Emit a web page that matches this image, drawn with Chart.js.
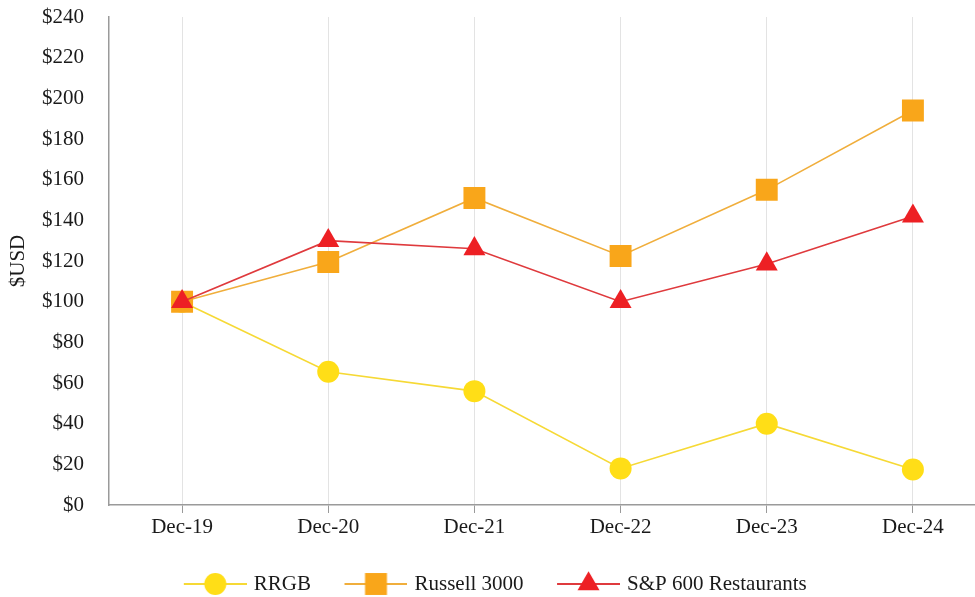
<!DOCTYPE html>
<html lang="en">
<head>
    <meta charset="UTF-8">
    <title>Total return</title>
    <script src="https://cdn.jsdelivr.net/npm/chart.js"></script>
    <style>
        html, body {
            margin: 0;
            padding: 0;
            background: #ffffff;
            overflow: hidden;
        }

        /* the plot runs slightly past the right edge, as in the source */
        #returnChart {
            display: block;
            width: 990px;
            height: 597px;
        }
    </style>
</head>
<body>

<canvas id="returnChart" width="990" height="597"></canvas>

<script>
    // Data
    const categories = ['Dec-19', 'Dec-20', 'Dec-21', 'Dec-22', 'Dec-23', 'Dec-24'];
    const rrgb = [100, 65.5, 56, 18, 40, 17.5];
    const russell3000 = [100, 119.5, 151, 122.5, 155, 194];
    const sp600Restaurants = [100, 130, 126, 100, 118.5, 142];
    const yTicks = [0, 20, 40, 60, 80, 100, 120, 140, 160, 180, 200, 220, 240];

    const serif = '"Liberation Serif", "Times New Roman", serif';
    const textColor = '#1a1a1a';
    const fontSize = 21;

    const styles = [
        { marker: 'circle', fill: '#ffde17', line: '#f6d935', radius: 11 },
        { marker: 'rect', fill: '#f9a61a', line: '#f0ae3c', radius: 15.5 },
        { marker: 'triangle', fill: '#ed2024', line: '#df3a3d', radius: 12.7 }
    ];

    // legend icon: line with the marker in the middle, blank on the left
    const ICON_W = 80, LINE_W = 63;
    function legendIcon(s) {
        const c = document.createElement('canvas');
        c.width = ICON_W;
        c.height = 26;
        const ctx = c.getContext('2d');
        const x0 = ICON_W - LINE_W;
        const cx = x0 + LINE_W / 2, cy = 13;
        ctx.strokeStyle = s.line;
        ctx.lineWidth = 2;
        ctx.beginPath();
        ctx.moveTo(x0, cy);
        ctx.lineTo(ICON_W, cy);
        ctx.stroke();
        ctx.fillStyle = s.fill;
        ctx.beginPath();
        if (s.marker === 'circle') {
            ctx.arc(cx, cy, s.radius, 0, Math.PI * 2);
        } else if (s.marker === 'rect') {
            const h = s.radius * Math.SQRT1_2;
            ctx.rect(cx - h, cy - h, 2 * h, 2 * h);
        } else {
            const r = s.radius;
            ctx.moveTo(cx, cy - r);
            ctx.lineTo(cx + r * 0.866, cy + r * 0.5);
            ctx.lineTo(cx - r * 0.866, cy + r * 0.5);
            ctx.closePath();
        }
        ctx.fill();
        return c;
    }

    const icons = styles.map(legendIcon);

    function makeDataset(label, values, s, order) {
        return {
            label: label,
            data: values,
            borderColor: s.line,
            borderWidth: 1.6,
            pointStyle: s.marker,
            pointRadius: s.radius,
            pointHoverRadius: s.radius,
            pointBackgroundColor: s.fill,
            pointBorderColor: s.fill,
            pointBorderWidth: 0,
            tension: 0,
            fill: false,
            order: order
        };
    }

    const data = {
        labels: categories,
        datasets: [
            makeDataset('RRGB', rrgb, styles[0], 3),
            makeDataset('Russell 3000', russell3000, styles[1], 2),
            makeDataset('S&P 600 Restaurants', sp600Restaurants, styles[2], 1)
        ]
    };

    const config = {
        type: 'line',
        data: data,
        options: {
            responsive: false,
            maintainAspectRatio: false,
            devicePixelRatio: 1,
            animation: false,
            layout: {
                autoPadding: false,
                padding: { top: 17, right: 4, bottom: -7.5, left: -9 }
            },
            plugins: {
                legend: {
                    position: 'bottom',
                    labels: {
                        usePointStyle: true,
                        pointStyleWidth: 73,
                        padding: 20,
                        color: textColor,
                        font: { family: serif, size: fontSize },
                        generateLabels: function (chart) {
                            return chart.data.datasets.map((ds, i) => ({
                                text: ds.label,
                                pointStyle: icons[i],
                                fillStyle: styles[i].fill,
                                strokeStyle: 'transparent',
                                lineWidth: 0,
                                hidden: false,
                                datasetIndex: i,
                                fontColor: textColor
                            }));
                        }
                    }
                },
                tooltip: { enabled: false }
            },
            scales: {
                x: {
                    offset: true,
                    afterFit: function (scale) {
                        scale.height = 48.5;
                        scale.paddingLeft = 0;
                        scale.paddingRight = 0;
                    },
                    grid: {
                        display: true,
                        color: '#e3e3e3',
                        lineWidth: 1,
                        drawTicks: true,
                        tickLength: 8,
                        tickColor: '#9a9a9a'
                    },
                    border: { display: true, color: '#9a9a9a', width: 1.5 },
                    ticks: {
                        color: textColor,
                        padding: 2,
                        font: { family: serif, size: fontSize }
                    }
                },
                y: {
                    min: 0,
                    max: 240,
                    afterBuildTicks: function (axis) {
                        axis.ticks = yTicks.map(v => ({ value: v }));
                    },
                    afterFit: function (scale) {
                        scale.width = 118;
                    },
                    grid: {
                        display: true,
                        color: 'rgba(0,0,0,0)',
                        drawTicks: true,
                        tickLength: 25,
                        tickColor: 'rgba(0,0,0,0)'
                    },
                    border: { display: true, color: '#9a9a9a', width: 1.5 },
                    ticks: {
                        color: textColor,
                        padding: 0,
                        font: { family: serif, size: fontSize },
                        callback: v => '$' + v
                    },
                    title: {
                        display: true,
                        text: '$USD',
                        color: textColor,
                        padding: { top: 14.4, bottom: 0 },
                        font: { family: serif, size: fontSize }
                    }
                }
            }
        }
    };

    const returnChart = new Chart(
        document.getElementById('returnChart'),
        config
    );
</script>

</body>
</html>
